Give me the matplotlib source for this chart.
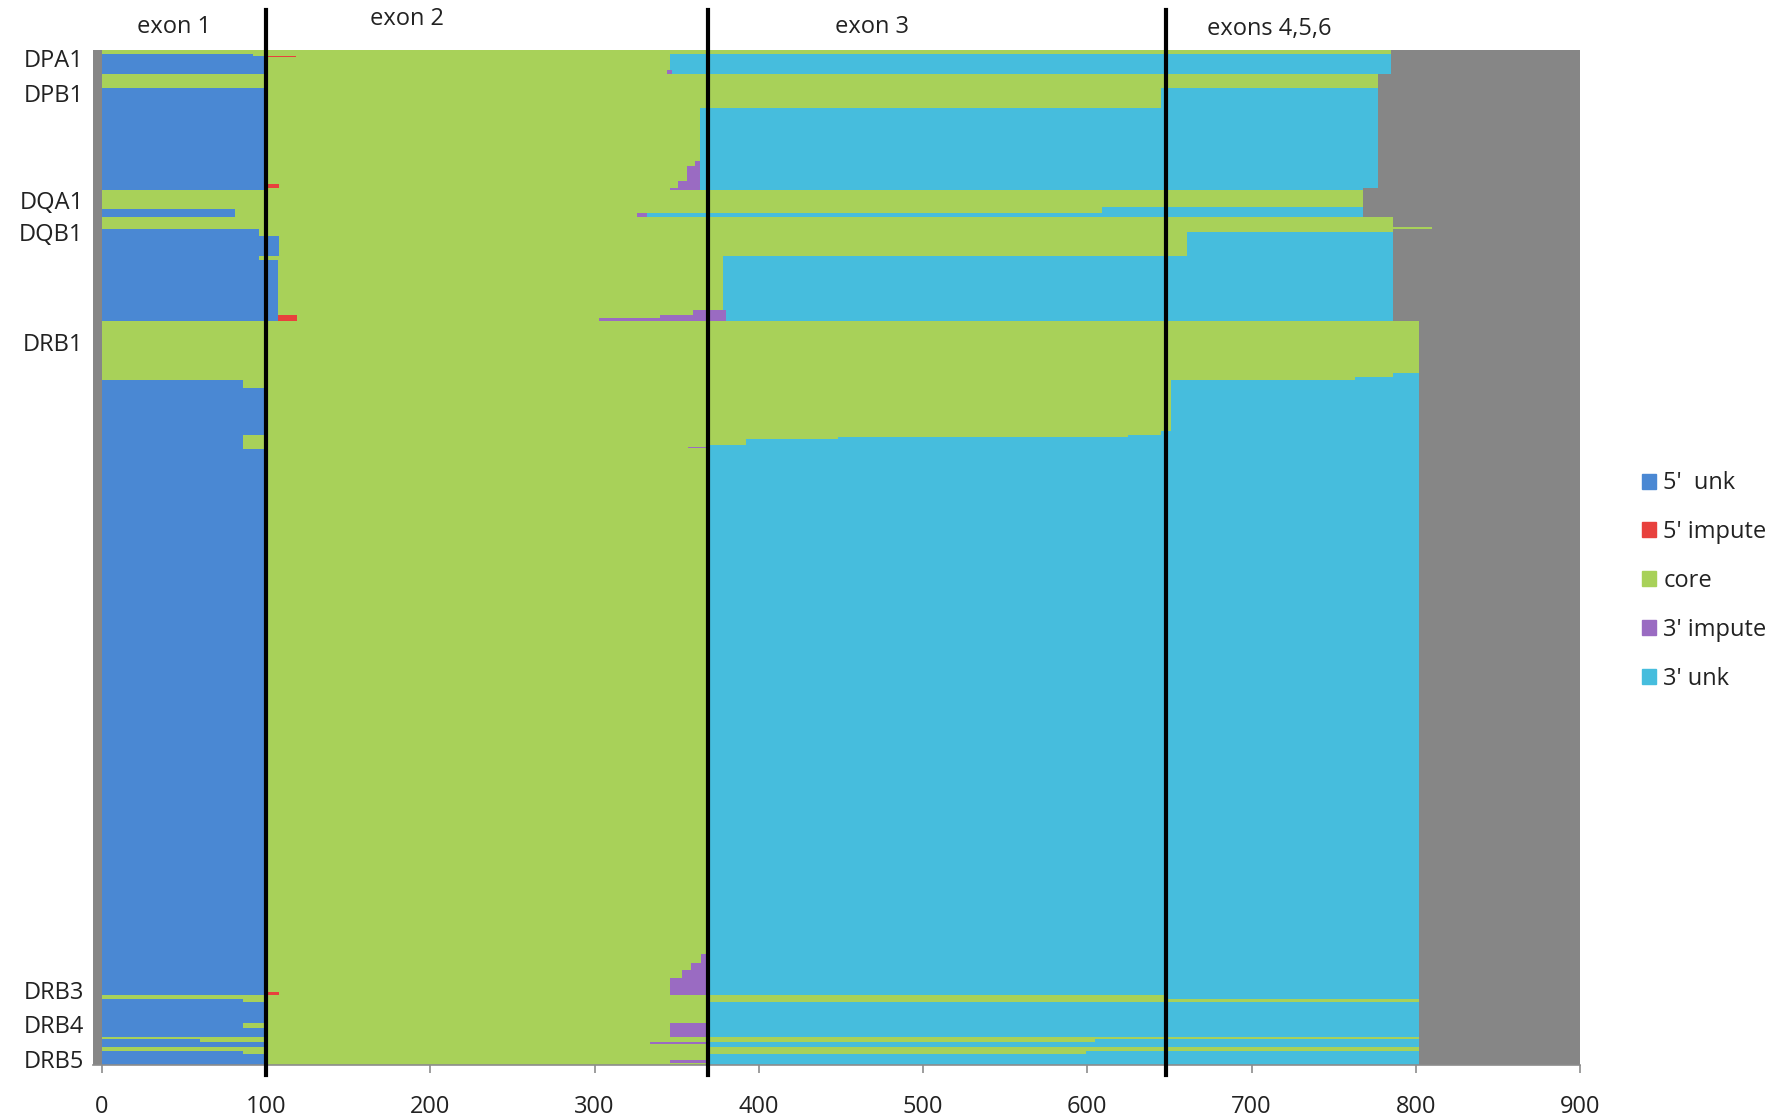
import numpy as np
import matplotlib.pyplot as plt
from matplotlib.patches import Patch

plt.rcParams['font.family'] = ['Open Sans', 'DejaVu Sans']

# run-length blocks of alleles, top to bottom; widths of each stacked segment
block_rows = [3, 2, 1, 11, 4,
              12, 17, 47, 4, 13, 3, 3, 2,
              15, 2, 3, 4,
              8, 2, 3, 3, 18, 3, 44, 4, 3, 3,
              45, 4, 2, 2, 5, 38, 3, 2, 2, 5, 2, 1, 1, 441,
              8, 6, 7, 13, 2, 4, 2, 19, 4, 8, 2, 2, 2, 3, 3, 3, 5, 3, 1]
unk5 = [0, 92, 99, 99, 99,
        0, 100, 100, 100, 100, 100, 100, 100,
        0, 0, 81, 81,
        0, 0, 96, 96, 108, 96, 107, 107, 107, 107,
        0, 0, 0, 86, 86, 100, 100, 86, 86, 86, 86, 86, 86, 100,
        100, 100, 100, 100, 100, 0, 86, 100, 86, 100, 0, 60, 100, 100, 0, 86, 100, 100, 100]
imp5 = [0, 0, 19, 0, 0,
        0, 0, 0, 0, 0, 0, 8, 0,
        0, 0, 0, 0,
        0, 0, 0, 0, 0, 0, 0, 0, 12, 12,
        0, 0, 0, 0, 0, 0, 0, 0, 0, 0, 0, 0, 0, 0,
        0, 0, 0, 0, 8, 0, 0, 0, 0, 0, 0, 0, 0, 0, 0, 0, 0, 0, 0]
core = [785, 254, 228, 247, 245,
        777, 545, 264, 261, 256, 251, 243, 246,
        768, 609, 528, 245,
        786, 810, 690, 565, 553, 282, 271, 253, 221, 184,
        802, 786, 763, 565, 565, 551, 545, 539, 362, 306, 284, 271, 284, 270,
        265, 259, 253, 246, 238, 648, 716, 270, 260, 246, 802, 545, 234, 270, 802, 513, 270, 246, 270]
imp3 = [0, 0, 0, 0, 3,
        0, 0, 0, 3, 8, 13, 13, 18,
        0, 0, 0, 6,
        0, 0, 0, 0, 0, 0, 0, 20, 40, 77,
        0, 0, 0, 0, 0, 0, 0, 0, 0, 0, 0, 12, 0, 0,
        5, 11, 17, 24, 24, 0, 0, 0, 24, 24, 0, 0, 36, 0, 0, 0, 0, 24, 0]
unk3 = [0, 439, 439, 439, 438,
        0, 132, 413, 413, 413, 413, 413, 404,
        0, 159, 159, 436,
        0, 0, 0, 125, 125, 408, 408, 406, 406, 406,
        0, 16, 39, 151, 151, 151, 157, 177, 354, 410, 432, 433, 432, 432,
        432, 432, 432, 432, 432, 154, 0, 432, 432, 432, 0, 197, 432, 432, 0, 203, 432, 432, 432]

series_names = ["5'  unk", "5' impute", 'core', "3' impute", "3' unk"]
series_colors = ['#4A88D3', '#E8413D', '#A8D159', '#9A6BC2', '#46BDDD']

locus_labels = ['DPA1', 'DPB1', 'DQA1', 'DQB1', 'DRB1', 'DRB3', 'DRB4', 'DRB5']
locus_rows = [7, 37, 131, 159, 255, 822, 852, 882]

exon_bounds = [100, 369, 648]
exon_labels = ['exon 1', 'exon 2', 'exon 3', 'exons 4,5,6']
exon_label_x = [44, 186, 469, 711]
exon_label_y = [1.023, 1.031, 1.023, 1.021]

fig = plt.figure(figsize=(17.91, 11.19), dpi=100)
ax = fig.add_axes([0.0518, 0.0487, 0.8304, 0.9062])
ax.set_facecolor('#868686')

rows = np.array(block_rows, dtype=float)
y_top = np.concatenate([[0], np.cumsum(rows)[:-1]])
y_mid = y_top + rows / 2
left = np.zeros(len(rows))
for vals, col, name in zip([unk5, imp5, core, imp3, unk3], series_colors, series_names):
    vals = np.array(vals, dtype=float)
    ax.barh(y_mid, vals, height=rows, left=left, color=col, linewidth=0, label=name)
    left += vals

ax.set_xlim(-5.5, 900)
ax.set_ylim(rows.sum(), 0)

# exon boundaries run past the plot area
for xb in exon_bounds:
    ax.plot([xb, xb], [-0.01, 1.04], transform=ax.get_xaxis_transform(),
            color='black', lw=3, clip_on=False, zorder=5)
for lab, xl, yl in zip(exon_labels, exon_label_x, exon_label_y):
    ax.text(xl, yl, lab, transform=ax.get_xaxis_transform(), ha='center', va='center',
            fontsize=17, color='#222222')

ax.set_xticks(np.arange(0, 901, 100))
ax.set_yticks(locus_rows)
ax.set_yticklabels(locus_labels)
ax.tick_params(axis='x', direction='out', length=6, width=1.2, color='#8c8c8c',
               pad=16, labelsize=17, labelcolor='#222222')
ax.tick_params(axis='y', length=0, pad=6.5, labelsize=17, labelcolor='#222222')
for s in ['top', 'right', 'left']:
    ax.spines[s].set_visible(False)
ax.spines['bottom'].set_color('#8c8c8c')
ax.spines['bottom'].set_linewidth(1.2)

handles = [Patch(color=c, label=n) for c, n in zip(series_colors, series_names)]
fig.legend(handles=handles, loc='center left', bbox_to_anchor=(0.905, 0.4808),
           frameon=False, fontsize=17, handlelength=0.6, handleheight=0.6,
           handletextpad=0.3, labelspacing=1.05, labelcolor='#222222')

fig.savefig('out.png', dpi=100)
